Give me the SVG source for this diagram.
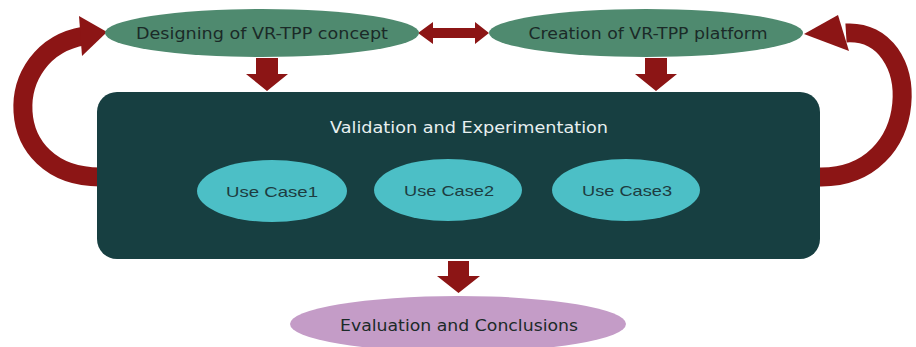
<svg xmlns="http://www.w3.org/2000/svg" width="916" height="347" viewBox="0 0 916 347">
<defs>
<style>
.arrow{fill:#8c1515;}
.arc{fill:none;stroke:#8c1515;stroke-width:19;}
.top{fill:#4f8a6f;}
.uc{fill:#4cbfc6;}
.t{font-family:"DejaVu Sans","Liberation Sans",sans-serif;text-anchor:middle;}
.dark{fill:#1b2a28;font-size:15.5px;}
.light{fill:#e8f0f0;font-size:16.5px;}
.ucT{fill:#1d3c40;font-size:15px;font-family:"Liberation Sans Narrow","Liberation Sans",sans-serif;text-anchor:middle;}
</style>
</defs>
<rect width="916" height="347" fill="#ffffff"/>
<g id="connectors">
<path class="arc" d="M100,177 C0,177 0,50 84,36"/>
<polygon class="arrow" points="107,32 79,16 82,56"/>
<path class="arc" d="M818,177 C925,180 925,28 846,33"/>
<polygon class="arrow" points="804,34 838,15 849,51"/>
<polygon class="arrow" points="418,33 433,22 433,28 475,28 475,22 489,33 475,44 475,38 433,38 433,44"/>
<polygon class="arrow" points="256,58 278,58 278,74 288,74 267,91 246,74 256,74"/>
<polygon class="arrow" points="645,58 667,58 667,74 677,74 656,91 635,74 645,74"/>
<polygon class="arrow" points="448,261 469,261 469,276 480,276 458.5,293 437,276 448,276"/>
</g>
<g id="designing">
<ellipse class="top" cx="262" cy="33" rx="157" ry="24"/>
<text class="t dark" x="262" y="39" textLength="252" lengthAdjust="spacingAndGlyphs">Designing of VR-TPP concept</text>
</g>
<g id="creation">
<ellipse class="top" cx="646" cy="33" rx="157" ry="24"/>
<text class="t dark" x="648" y="39" textLength="239" lengthAdjust="spacingAndGlyphs">Creation of VR-TPP platform</text>
</g>
<g id="validation">
<rect x="97" y="92" width="723" height="167" rx="20" ry="20" fill="#173f41"/>
<text class="t light" x="469" y="133" textLength="278" lengthAdjust="spacingAndGlyphs">Validation and Experimentation</text>
</g>
<g id="usecase1">
<ellipse class="uc" cx="272" cy="191" rx="75" ry="31"/>
<text class="ucT" x="272" y="197" textLength="92" lengthAdjust="spacingAndGlyphs">Use Case1</text>
</g>
<g id="usecase2">
<ellipse class="uc" cx="448" cy="190" rx="74" ry="31"/>
<text class="ucT" x="449" y="196" textLength="90" lengthAdjust="spacingAndGlyphs">Use Case2</text>
</g>
<g id="usecase3">
<ellipse class="uc" cx="626" cy="190" rx="74" ry="31"/>
<text class="ucT" x="627" y="196" textLength="90" lengthAdjust="spacingAndGlyphs">Use Case3</text>
</g>
<g id="evaluation">
<ellipse cx="458" cy="324" rx="168" ry="28" fill="#c49cc7"/>
<text class="t dark" x="459" y="331" textLength="238" lengthAdjust="spacingAndGlyphs">Evaluation and Conclusions</text>
</g>
</svg>
